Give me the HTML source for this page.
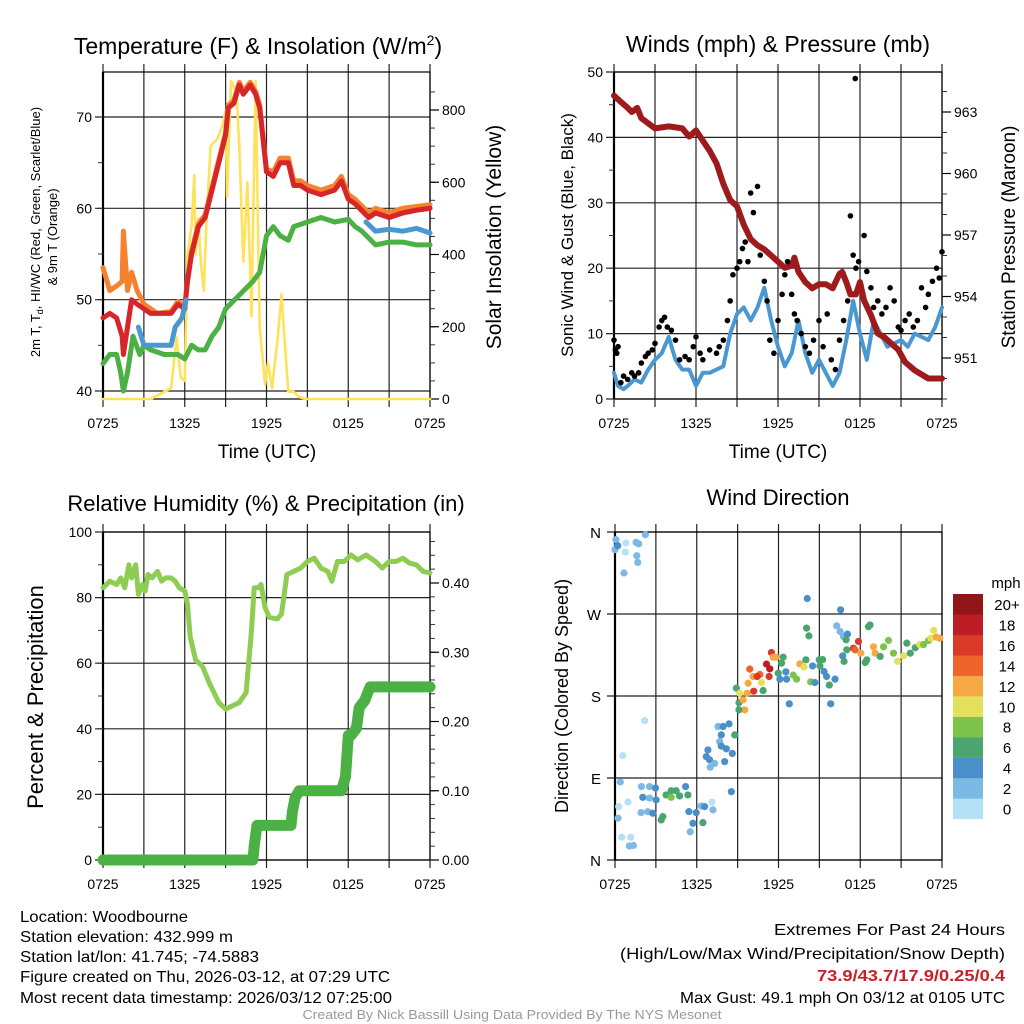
<!DOCTYPE html>
<html><head><meta charset="utf-8"><style>
html,body{margin:0;padding:0;background:#fff;}
svg{display:block;font-family:"Liberation Sans",sans-serif;}
</style></head><body>
<svg id="chart" width="1024" height="1024" viewBox="0 0 1024 1024" xmlns="http://www.w3.org/2000/svg">
<rect width="1024" height="1024" fill="#fff"/>
<g id="layer"></g>
<g font-size="16" fill="#000">
<text x="20" y="922" textLength="168" lengthAdjust="spacingAndGlyphs">Location: Woodbourne</text>
<text x="20" y="942" textLength="213" lengthAdjust="spacingAndGlyphs">Station elevation: 432.999 m</text>
<text x="20" y="962" textLength="239" lengthAdjust="spacingAndGlyphs">Station lat/lon: 41.745; -74.5883</text>
<text x="20" y="982" textLength="370" lengthAdjust="spacingAndGlyphs">Figure created on Thu, 2026-03-12, at 07:29 UTC</text>
<text x="20" y="1003" textLength="372" lengthAdjust="spacingAndGlyphs">Most recent data timestamp: 2026/03/12 07:25:00</text>
</g>
<g font-size="16" text-anchor="end">
<text x="1005" y="935" textLength="231" lengthAdjust="spacingAndGlyphs">Extremes For Past 24 Hours</text>
<text x="1005" y="959" textLength="385" lengthAdjust="spacingAndGlyphs">(High/Low/Max Wind/Precipitation/Snow Depth)</text>
<text x="1005" y="981" textLength="188" lengthAdjust="spacingAndGlyphs" fill="#c8202a" font-weight="bold">73.9/43.7/17.9/0.25/0.4</text>
<text x="1005" y="1003" textLength="325" lengthAdjust="spacingAndGlyphs">Max Gust: 49.1 mph On 03/12 at 0105 UTC</text>
</g>
<text x="512" y="1019" text-anchor="middle" font-size="13" fill="#999" textLength="419" lengthAdjust="spacingAndGlyphs">Created By Nick Bassill Using Data Provided By The NYS Mesonet</text>
</svg>
<script>
// ---------- DATA ----------
const xTickLabels = ["0725","1325","1925","0125","0725"];
const tempTicks = [40,50,60,70];
const solarTicks = [0,200,400,600,800];
const windTicks = [0,10,20,30,40,50];
const pressTicks = [951,954,957,960,963];
const rhTicks = [0,20,40,60,80,100];
const precipTicks = [0,0.1,0.2,0.3,0.4];
const dirTicks = ["N","E","S","W","N"];

const tempHours = [0,0.5,1,1.4,1.5,1.8,2.1,2.5,3,3.5,4,5,5.5,6,6.2,6.5,7,7.5,8,8.5,9,9.2,9.6,10,10.3,10.8,11.2,11.5,12,12.5,13,13.6,14,14.5,15,16,17,17.5,18,18.5,19.5,20,21,22,23,24];
const tempRed = [48,48.5,48,46,44,47,50,49.5,49,48.5,48.5,48.5,49.5,49,52,55,58,59,62,65,68,71,71.5,73.5,72.5,73.5,72.5,71,64,63.5,65,65,62.5,62.5,62,61.5,62,63,61,60.5,59,59.5,59,59.5,59.8,60];
const tempOrange = [53.5,51,51.5,52,57.5,51,53,51,49.5,49,48.5,48.7,49.8,49.3,52.3,55.3,58.3,59.3,62.3,65.3,68.3,71.3,71.8,73.8,72.8,73.8,72.8,71.3,64.3,64,65.5,65.5,63,63,62.5,62,62.5,63.5,61.5,61,59.5,60,59.5,60,60.2,60.4];
const dewHours = [0,0.5,1,1.3,1.5,1.8,2.2,2.7,3,3.5,4.5,5.5,6,6.5,7,7.5,8,8.5,9,10,11,11.5,12,12.5,13,13.6,14,15,16,17,18,18.5,19,20,21,22,23,24];
const dewGreen = [43,44,44,42,40,42,46,44,45,44.5,44,44,43.5,45,44.5,44.5,46,47,49,50.5,52,53,57,58,57,56.5,58,58.5,59,58.5,58.8,58,57.5,56,56.3,56.3,56,56];
const hiHours = [2.6,3,4,5,5.3,5.8,6.1,null,19.3,20,21,22,23,24];
const hiBlue = [47,45,45,45,47,48,50,null,58.5,57.5,57.7,57.5,57.8,57.3];
const solarHours = [0,3.5,4,5,5.4,5.7,6,6.2,6.5,6.7,6.8,7.0,7.2,7.4,7.6,7.9,8.4,8.8,9,9.1,9.4,9.8,10,10.3,10.6,10.9,11.2,11.5,11.9,12.1,12.4,12.8,13.1,13.3,13.6,14,14.4,15,24];
const solarVals = [0,0,10,30,170,60,50,400,480,620,400,500,370,300,500,700,720,760,800,560,880,850,700,380,600,230,880,200,40,100,30,160,290,180,20,20,5,0,0];

const windHours = [0,0.3,0.7,1,1.5,2,2.5,3,3.5,4,4.5,5,5.5,6,6.5,7,8,8.5,9,9.5,10,10.5,11,11.5,12,12.5,13,13.5,14,14.5,15,15.5,16,16.5,17,17.5,18,18.5,19,19.5,20,21,21.5,22,23,23.5,24];
const windSpeed = [4,2,1.5,2,3,2.5,4.5,6,7,9.5,6,4.5,4.5,2,4,4,5,10,13,14,12,14,17,12,8,5,7,12,7,4,6,4,2,4,9,15,10,6,12,10,8,9,8,10,9,11,14];
const gustHours = [0,0.1,0.2,0.3,0.5,0.7,1,1.3,1.5,1.8,2,2.3,2.5,2.8,3,3.3,3.5,3.7,3.9,4.2,4.5,4.8,5.2,5.5,5.8,6,6.3,6.5,7,7.5,7.7,8,8.3,8.5,8.7,9,9.2,9.4,9.6,9.8,10,10.2,10.5,10.7,11,11.2,11.4,11.7,12,12.3,12.5,12.7,13,13.2,13.4,13.7,14,14.3,14.6,15,15.3,15.6,15.9,16.2,16.5,16.8,17.1,17.3,17.5,17.65,17.7,17.9,18.3,18.5,18.8,19,19.3,19.6,19.9,20.2,20.5,20.8,21,21.3,21.6,21.9,22.2,22.5,22.8,23,23.3,23.6,23.8,24];
const gustVals = [9,7.5,7,8,2.5,3.5,3,4,3.5,4,5.5,6.5,7,7.5,8.5,11,12,12.5,11,10.5,9,6,6.5,6,8,9.5,7,6,7.5,7,8,9,12,15,19,20,21,23,24,21,31.5,28.5,32.5,22,18,15,9,7,12,16,19,21,16,13,12,10,8,7,9,12,8,13,6,4.5,9,12,15,28,22,49,20,21,25,19.5,17,14,15,13,14,17,15,11,10.5,12,13,11,12,17,14,16,18,20,18.5,22.5];
const pressHours = [0,0.5,1,1.3,1.7,2,3,4,5,5.5,6,6.5,7,7.5,8,8.5,9,9.5,10,10.5,11,11.5,12,12.5,13,13.2,13.5,14,14.5,15,15.5,16,16.5,16.7,17,17.3,17.7,18,18.3,18.8,19.3,19.8,20.3,20.8,21.3,22,23,24];
const pressVals = [963.8,963.5,963.2,963.0,963.2,962.7,962.2,962.3,962.2,961.8,962.1,961.6,961.1,960.5,959.5,958.7,958.4,957.5,956.8,956.5,956.3,956.0,955.7,955.4,955.5,955.9,955.2,954.7,954.4,954.6,954.6,954.4,955.1,955.2,954.7,954.1,954.1,954.7,953.8,953.1,952.2,952.0,951.7,951.4,950.8,950.4,950.0,950.0];

const rhHours = [0,0.5,1,1.3,1.6,1.9,2.1,2.4,2.6,2.9,3.1,3.3,3.6,4,4.3,4.6,5,5.3,5.6,6,6.2,6.4,6.8,7.3,7.8,8.5,9,9.5,10,10.5,10.9,11.1,11.4,11.6,11.9,12.2,12.8,13.1,13.5,14,14.5,15,15.5,16,16.5,16.8,17.2,17.7,18.2,18.7,19.3,20,20.5,21,21.5,22,22.5,23,23.5,24];
const rhVals = [83,85,84,86,83,90,86,90,81,84,82,87,86,88,85,86,86,85,83,82,78,68,61,59,54,48,46,47,48,51,70,83,83,84,77,74,73.5,75,87,88,89,91,92,89,88,85,91,91,93,91.5,93,91,89,91,91,92,90.5,90,88,87.5];
const precipHours = [0,11,11.1,11.3,11.5,13.8,13.9,14.1,14.4,17.5,17.8,17.9,18,18.2,18.6,18.8,19.2,19.6,24];
const precipVals = [0,0,0.02,0.05,0.05,0.05,0.07,0.09,0.1,0.1,0.12,0.15,0.18,0.18,0.19,0.22,0.23,0.25,0.25];

const dirHours = [0.07,0,0.2,0.8,0.76,1.55,1.74,2.23,1.6,1.67,0.66,2.18,0.56,0.39,0.27,0.22,0.96,0.49,1.15,1.06,1.35,1.94,2.53,2.97,2.04,2.53,3.02,1.91,2.4,2.77,3.39,3.51,3.75,4.12,4.49,4.74,5.18,5.35,4.12,5.42,5.72,5.96,6.45,6.33,6.58,7.12,7.19,5.52,8.54,6.82,6.7,6.94,7.31,6.99,7.56,7.93,8.37,7.8,7.68,7.8,8.17,8.61,8.05,8.79,8.91,9.1,9.15,9.4,9.52,9.69,9.1,9.89,10.13,9.77,10.63,10.75,10.43,10.87,10.18,11.12,11.36,11.48,11.61,11.8,11.31,12.22,12.34,11.98,12.1,12.54,12.59,12.79,13.08,13.33,13.57,13.87,14.01,14.06,14.23,14.11,14.5,14.36,14.67,14.99,15.04,15.24,15.34,15.53,15.83,15.73,16.15,16.27,16.56,16.52,16.76,17.06,16.71,16.81,17.01,16.96,17.5,17.87,17.62,18.04,18.36,18.48,18.72,18.6,18.97,19.09,19.46,19.71,20.07,20.44,20.74,21.18,21.42,21.67,22.04,22.36,22.65,23.02,23.19,23.39,23.58,23.83,24.0];
const dirDeg = [351.6,340.6,345,348,338,348.6,347,357,334,326.6,315,153,114.6,85.7,58.6,46,63.7,25,25,15.4,16,80.6,80.6,79,68.8,68,66,52,53,51.3,44,47.6,71.4,68.8,76,70.3,80.6,71.4,76,53.1,40.3,52,41,59.3,58.6,63.4,55,31,75,120.8,113.5,110,106,101.8,146.5,146.5,149.4,137.3,130,125,122,117,108,137.3,188.6,172.8,183,175.8,164.8,183,164.8,209.5,201.4,194,203.6,194.8,201.4,186,185.3,215,209.8,227.8,222.6,222.6,201.4,216,222.6,205,198.5,206.5,198.5,171.4,202.9,198.5,215.3,211.7,219.7,254.5,246,287,213,195.5,194.8,219.7,213,220,206.9,201.4,171.4,192,198.5,257,274.6,250.8,245.4,248,224,218,230.7,241.7,232.5,239.9,230.7,227,216.8,219.7,258,256,234,227,223.4,234,241,227,218,224,238,227,233,236.5,236.5,241,243.5,252,244.6,243.5];
const dirSpeed = [3,3,4,1,1,3,3,3,3,3,3,1,1,3,1,3,1,1,1,2,2,3,3,4,4,3,4,3,3,4,7,7,7,9,6,7,4,7,7,4,4,4,7,3,4,1,3,3,4,4,4,4,3,2,2,4,4,4,2,4,4,4,4,6,7,7,10,12,12,13,7,14,13,12,15,10,16,7,17,18,18,17,12,12,16,7,6,7,4,4,4,4,8,8,12,10,6,6,6,4,4,8,4,6,7,6,4,4,4,6,4,3,4,2,3,4,4,6,6,6,16,17,15,13,6,6,7,7,12,12,7,8,8,8,10,10,6,7,6,10,8,8,10,10,12,12,16];
const speedColors = ["#b5e1f6","#7cb9e4","#4b8fc8","#4aa56e","#7dc24b","#e5e05c","#f6a845","#ee6329","#db392a","#bd1e25","#8f1519"];
const speedLabels = ["0","2","4","6","8","10","12","14","16","18","20+"];

// ---------- DRAW ----------
const NS = "http://www.w3.org/2000/svg";
const layer = document.getElementById("layer");
function mk(tag, attrs, parent){
  const e = document.createElementNS(NS, tag);
  for (const k in attrs) e.setAttribute(k, attrs[k]);
  (parent||layer).appendChild(e);
  return e;
}
function txt(str, attrs, parent){ const t = mk("text", attrs, parent); t.textContent = str; return t; }

function makePanel(name, x0, x1, y0, y1){
  const g = mk("g", {});
  
  
  return {g, x0, x1, y0, y1, sx: h => x0 + (x1 - x0) * h / 24};
}
function frame(p, hLines){
  for (let i = 0; i <= 8; i++){
    const x = p.x0 + (p.x1 - p.x0) * i / 8;
    const l = mk("line", {x1:x, x2:x, y1:p.y0 - 8, y2:p.y1 + 8, stroke:"#222", "stroke-width":1.2}, p.g);
    
    
  }
  hLines.forEach(y => {
    const l = mk("line", {x1:p.x0 - 8, x2:p.x1, y1:y, y2:y, stroke:"#222", "stroke-width":1.2}, p.g);
    
    
  });
  mk("rect", {x:p.x0, y:p.y0, width:p.x1 - p.x0, height:p.y1 - p.y0, fill:"none", stroke:"#000", "stroke-width":1.2}, p.g);
  mk("line", {x1:p.x0, x2:p.x0, y1:p.y0, y2:p.y1, stroke:"#000", "stroke-width":2.2}, p.g);
  xTickLabels.forEach((lab, i) => {
    const t = txt(lab, {x:p.x0 + (p.x1 - p.x0) * i / 4, y:p.y1 + 29, "font-size":14, "text-anchor":"middle"}, p.g);
    
    
  });
}
function rightTicks(p, yFn, majors, minorStep, lo, hi, labFn){
  for (let v = lo; v <= hi + 1e-9; v += minorStep){
    const y = yFn(v);
    if (y < p.y0 - 0.5 || y > p.y1 + 0.5) continue;
    mk("line", {x1:p.x1, x2:p.x1 + 5, y1:y, y2:y, stroke:"#333", "stroke-width":1}, p.g);
  }
  majors.forEach(v => {
    const y = yFn(v);
    mk("line", {x1:p.x1, x2:p.x1 + 9, y1:y, y2:y, stroke:"#000", "stroke-width":1.2}, p.g);
    const t = txt(labFn(v), {x:p.x1 + 12, y:y + 5, "font-size":14}, p.g);
    
    
  });
}
function leftLabels(p, vals, yFn, fmt){
  vals.forEach(v => {
    const t = txt(fmt ? fmt(v) : String(v), {x:p.x0 - 11, y:yFn(v) + 5, "font-size":14, "text-anchor":"end"}, p.g);
    
    
  });
}
function leftMinor(p, yFn, lo, hi, step){
  for (let v = lo; v <= hi + 1e-9; v += step){
    const y = yFn(v);
    if (y < p.y0 - 0.5 || y > p.y1 + 0.5) continue;
    mk("line", {x1:p.x0 - 5, x2:p.x0, y1:y, y2:y, stroke:"#333", "stroke-width":1}, p.g);
  }
}
function linePath(p, hours, vals, yFn){
  let d = "", pen = false;
  for (let i = 0; i < hours.length; i++){
    if (hours[i] === null || vals[i] === null || vals[i] === undefined){ pen = false; continue; }
    d += (pen ? "L" : "M") + p.sx(hours[i]).toFixed(1) + " " + yFn(vals[i]).toFixed(1);
    pen = true;
  }
  return d;
}
function series(p, name, hours, vals, yFn, color, w){
  const e = mk("path", {d:linePath(p, hours, vals, yFn), fill:"none", stroke:color, "stroke-width":w, "stroke-linejoin":"round", "stroke-linecap":"round"}, p.g);
  
  
  return e;
}
function title(str, x, y, size, parent){
  const t = txt(str, {x:x, y:y, "font-size":size, "text-anchor":"middle"}, parent);
  
  
  return t;
}
function vlabel(str, x, y, size, name, parent){
  const t = txt(str, {x:0, y:0, "font-size":size, "text-anchor":"middle", transform:`translate(${x},${y}) rotate(-90)`}, parent);
  
  
  return t;
}

// Panel 1: Temperature
const p1 = makePanel("temperature-panel", 103, 430, 72, 399);
const tY = v => 391 - (v - 40) * (274 / 30);
const sY = v => 399 - v * (289 / 800);
frame(p1, tempTicks.map(tY));
leftMinor(p1, tY, 40, 74, 5);
leftLabels(p1, tempTicks, tY);
rightTicks(p1, sY, solarTicks, 50, 0, 850, v => String(v));
series(p1, "solar-insolation-line", solarHours, solarVals, sY, "#fde25a", 2.6);
series(p1, "temp-9m-orange-line", tempHours, tempOrange, tY, "#f5822f", 5);
series(p1, "dewpoint-green-line", dewHours, dewGreen, tY, "#4bb144", 5);
series(p1, "temp-2m-red-line", tempHours, tempRed, tY, "#d7262a", 5);
series(p1, "windchill-blue-line", hiHours, hiBlue, tY, "#4a98d3", 5);
series(p1, "temp-2m-red-line-late", tempHours.slice(39), tempRed.slice(39), tY, "#d7262a", 5);
const t1 = title("Temperature (F) & Insolation (W/m", 258, 54, 23, p1.g);
const sup = mk("tspan", {dy:-9, "font-size":14}, t1); sup.textContent = "2";
const cl = mk("tspan", {dy:9}, t1); cl.textContent = ")";
const xt1 = txt("Time (UTC)", {x:267, y:458, "font-size":19, "text-anchor":"middle"}, p1.g);


const la = vlabel("2m T, T", 40, 232, 13, "left-axis-title-line1", p1.g);
const sub = mk("tspan", {dy:3, "font-size":9}, la); sub.textContent = "d";
const rest = mk("tspan", {dy:-3}, la); rest.textContent = ", HI/WC (Red, Green, Scarlet/Blue)";
vlabel("& 9m T (Orange)", 57, 237, 13, "left-axis-title-line2", p1.g);
vlabel("Solar Insolation (Yellow)", 501, 237, 21, "right-axis-title", p1.g);

// Panel 2: Winds
const p2 = makePanel("winds-pressure-panel", 614, 942, 72, 399);
const wY = v => 399 - v * (327 / 50);
const pY = v => 112 + (963 - v) * 20.5;
frame(p2, windTicks.map(wY));
leftMinor(p2, wY, 0, 50, 5);
leftLabels(p2, windTicks, wY);
rightTicks(p2, pY, pressTicks, 1, 948, 964, v => String(v));
series(p2, "sonic-wind-blue-line", windHours, windSpeed, wY, "#4a98d3", 4);
series(p2, "pressure-maroon-line", pressHours, pressVals, pY, "#9e1a1d", 6);
gustHours.forEach((h, i) => {
  if (gustVals[i] === undefined) return;
  const c = mk("circle", {cx:p2.sx(h), cy:wY(gustVals[i]), r:2.8, fill:"#000"}, p2.g);
  
  
});
title("Winds (mph) & Pressure (mb)", 778, 52, 23, p2.g);
const xt2 = txt("Time (UTC)", {x:778, y:458, "font-size":19, "text-anchor":"middle"}, p2.g);


vlabel("Sonic Wind & Gust (Blue, Black)", 573, 235, 17, "left-axis-title", p2.g);
vlabel("Station Pressure (Maroon)", 1015, 237, 19, "right-axis-title", p2.g);

// Panel 3: RH & Precip
const p3 = makePanel("humidity-precip-panel", 103, 430, 532, 860);
const rY = v => 860 - v * 3.28;
const prY = v => 860 - v * 692.5;
frame(p3, rhTicks.map(rY));
leftMinor(p3, rY, 0, 100, 10);
leftLabels(p3, rhTicks, rY);
rightTicks(p3, prY, precipTicks, 0.02, 0, 0.46, v => v.toFixed(2));
series(p3, "relative-humidity-line", rhHours, rhVals, rY, "#8fcc54", 5);
series(p3, "precipitation-line", precipHours, precipVals, prY, "#4bb144", 11);
title("Relative Humidity (%) & Precipitation (in)", 266, 511, 22, p3.g);
vlabel("Percent & Precipitation", 43, 697, 22, "left-axis-title", p3.g);

// Panel 4: Wind Direction
const p4 = makePanel("wind-direction-panel", 615, 942, 532, 860);
const dY = v => 860 - v * (328 / 360);
frame(p4, [0,90,180,270,360].map(dY));
dirTicks.forEach((lab, i) => {
  const t = txt(lab, {x:p4.x0 - 14, y:dY(i * 90) + 6, "font-size":15, "text-anchor":"end"}, p4.g);
  
  
});
dirHours.forEach((h, i) => {
  if (dirDeg[i] === undefined || dirSpeed[i] === undefined) return;
  const bin = Math.min(10, Math.floor(dirSpeed[i] / 2));
  const c = mk("circle", {cx:p4.sx(h), cy:dY(dirDeg[i]), r:3.6, fill:speedColors[bin]}, p4.g);
  
  
});
title("Wind Direction", 778, 505, 22, p4.g);
vlabel("Direction (Colored By Speed)", 568, 696, 18, "left-axis-title", p4.g);
const leg = mk("g", {});


txt("mph", {x:1006, y:588, "font-size":15, "text-anchor":"middle"}, leg);
speedColors.forEach((col, i) => {
  const y = 594 + (10 - i) * 20.45;
  const r = mk("rect", {x:953, y:y, width:30, height:20.6, fill:col}, leg);
  
  
  const t = txt(speedLabels[i], {x:1007, y:y + 16, "font-size":15, "text-anchor":"middle"}, leg);
  
  
});
</script>
</body></html>
